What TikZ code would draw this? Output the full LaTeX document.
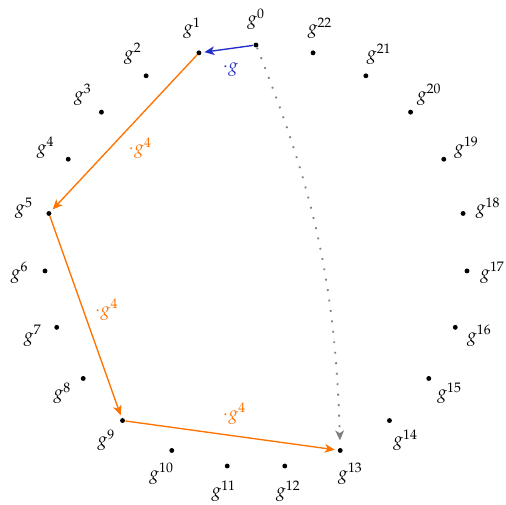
\documentclass[tikz,border=0pt]{standalone}
\usepackage{mathpazo}
\usetikzlibrary{arrows.meta,calc}
\definecolor{myblue}{RGB}{35,45,200}
\definecolor{myorange}{RGB}{255,115,0}
\definecolor{mygray}{RGB}{128,128,128}
\begin{document}
\begin{tikzpicture}[x=0.0194cm,y=-0.0194cm,
  dot/.style={circle,fill=black,inner sep=0pt,minimum size=2.7pt},
  steparrow/.style={line width=0.75pt,-{Stealth[length=5.5pt,width=4.8pt,inset=1.5pt]},shorten >=1.5pt},
  jump/.style={mygray,line width=1pt,dash pattern=on 1pt off 4.8pt,-{Stealth[length=5.5pt,width=4.8pt,inset=1.5pt]},shorten >=4pt},
  steplabel/.style={inner sep=0pt}]
\useasboundingbox (0,0) rectangle (506,505);
\coordinate (c) at (256,256.5);
\foreach \k in {0,...,22} {
  \pgfmathsetmacro\a{90+\k*360/23}
  \node[dot] (p\k) at ({256+211.5*cos(\a)},{256.5-211.5*sin(\a)}) {};
  \node[inner sep=0pt] (l\k) at ({256+237*cos(\a)},{256.5-237*sin(\a)}) {$g^{\k}$};
}
\draw[steparrow,myblue] (p0) -- coordinate (m0) (p1);
\draw[steparrow,myorange] (p1) -- coordinate (m1) (p5);
\draw[steparrow,myorange] (p5) -- coordinate (m2) (p9);
\draw[steparrow,myorange] (p9) -- coordinate (m3) (p13);
\node[steplabel,text=myblue] (t0) at ($(m0)!0.41cm!(c)$) {$\cdot g$};
\node[steplabel,text=myorange] (t1) at ($(m1)!0.43cm!(c)$) {$\cdot g^4$};
\node[steplabel,text=myorange] (t2) at ($(m2)!0.43cm!(c)$) {$\cdot g^4$};
\node[steplabel,text=myorange] (t3) at ($(m3)!0.43cm!(c)$) {$\cdot g^4$};
\draw[jump] (p0) to[bend left=10] (p13);
\end{tikzpicture}
\end{document}
